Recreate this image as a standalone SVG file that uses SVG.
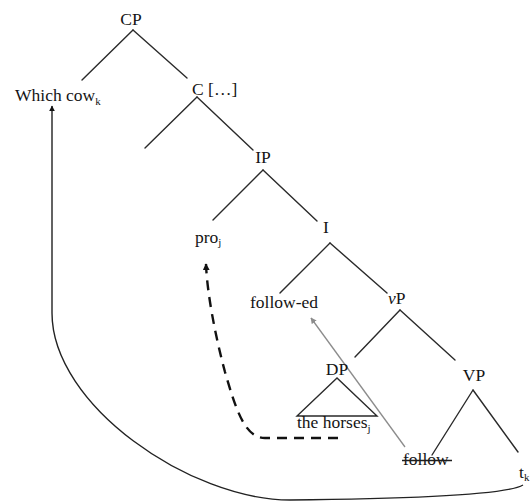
<svg xmlns="http://www.w3.org/2000/svg" width="530" height="502" viewBox="0 0 530 502">
<style>
text{font-family:"Liberation Serif","Times New Roman",serif;font-size:17.5px;fill:#141414}
.sub{font-size:11px}
.e{stroke:#2a2a2a;stroke-width:1.4;fill:none;stroke-linecap:round}
.mv{stroke:#222;stroke-width:1.4;fill:none}
.dash{stroke:#111;stroke-width:2.4;fill:none;stroke-dasharray:10 7}
.gray{stroke:#8c8c8c;stroke-width:1.3;fill:none}
</style>
<defs>
<marker id="ah" viewBox="0 0 10 10" refX="9" refY="5" markerWidth="6" markerHeight="6" orient="auto" markerUnits="userSpaceOnUse"><path d="M0,0 L10,5 L0,10 z" fill="#111"/></marker>
<marker id="ahb" viewBox="0 0 10 10" refX="9" refY="5" markerWidth="7" markerHeight="7" orient="auto" markerUnits="userSpaceOnUse"><path d="M0,0 L10,5 L0,10 z" fill="#111"/></marker>
<marker id="ahg" viewBox="0 0 10 10" refX="9" refY="5" markerWidth="6" markerHeight="6" orient="auto" markerUnits="userSpaceOnUse"><path d="M0,0 L10,5 L0,10 z" fill="#8c8c8c"/></marker>
</defs>
<rect width="530" height="502" fill="#fff"/>
<g id="connectors">
<line class="e" x1="133" y1="30" x2="82" y2="80"/>
<line class="e" x1="133" y1="30" x2="187" y2="78"/>
<line class="e" x1="197" y1="97" x2="145" y2="148"/>
<line class="e" x1="197" y1="97" x2="253" y2="150"/>
<line class="e" x1="263" y1="170" x2="213" y2="220"/>
<line class="e" x1="263" y1="170" x2="317" y2="221"/>
<line class="e" x1="330" y1="243" x2="280" y2="293"/>
<line class="e" x1="330" y1="243" x2="387" y2="293"/>
<line class="e" x1="400" y1="310" x2="355" y2="357"/>
<line class="e" x1="400" y1="310" x2="455" y2="360"/>
<line class="e" x1="473" y1="390" x2="432" y2="455"/>
<line class="e" x1="473" y1="390" x2="518" y2="452"/>
<path class="gray" d="M405,447 L311,318" marker-end="url(#ahg)"/>
<path class="dash" d="M338,438 L265,438 C245,438 236,410 225,372 C215,335 207,292 206,264" marker-end="url(#ahb)"/>
<path class="mv" d="M523,485 C505,496 390,499 290,500 C190,500 52,405 52,313 L52,106" marker-end="url(#ah)"/>
</g>
<g id="CP"><text x="131" y="25" text-anchor="middle">CP</text></g>
<g id="which-cow"><text x="15" y="101">Which cow<tspan class="sub" dy="4">k</tspan></text></g>
<g id="C"><text x="192" y="95">C […]</text></g>
<g id="IP"><text x="263" y="163" text-anchor="middle">IP</text></g>
<g id="pro"><text x="195" y="243">pro<tspan class="sub" dy="3">j</tspan></text></g>
<g id="I"><text x="326" y="233" text-anchor="middle">I</text></g>
<g id="follow-ed"><text x="250" y="308">follow-ed</text></g>
<g id="vP"><text x="388" y="304"><tspan font-style="italic">v</tspan>P</text></g>
<g id="DP">
<text x="337" y="375" text-anchor="middle">DP</text>
<path class="e" d="M337,378 L297,416 L377,416 Z"/>
<text x="297" y="428">the horses<tspan class="sub" dy="4">j</tspan></text>
</g>
<g id="VP"><text x="474" y="381" text-anchor="middle">VP</text></g>
<g id="follow">
<text x="403" y="465">follow</text>
<line x1="402" y1="460.5" x2="452" y2="460.5" stroke="#1e1e1e" stroke-width="1.3"/>
</g>
<g id="t"><text x="519" y="478">t<tspan class="sub" dy="3">k</tspan></text></g>
</svg>
